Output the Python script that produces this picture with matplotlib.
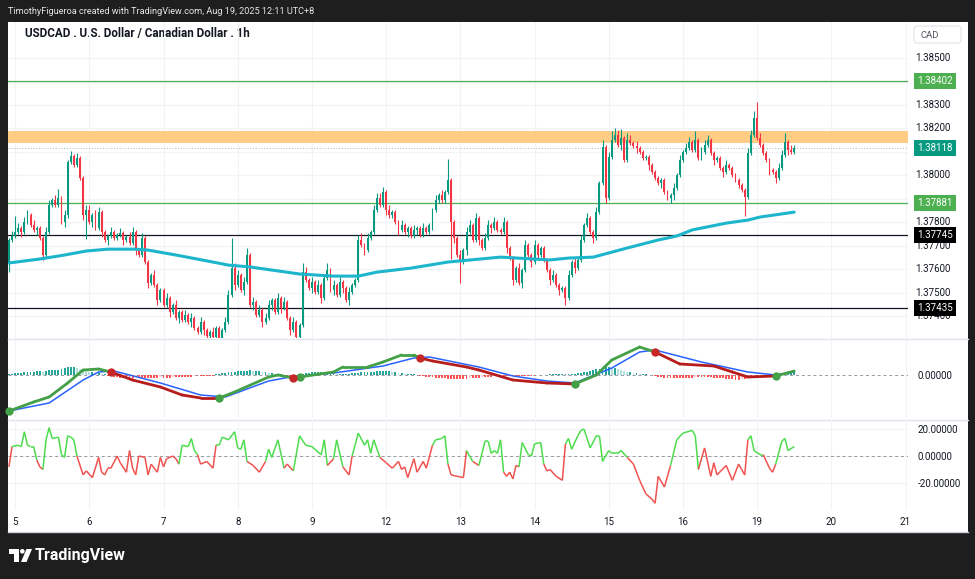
import matplotlib
matplotlib.use("Agg")
import matplotlib.pyplot as plt
import numpy as np
from matplotlib.patches import Rectangle, FancyBboxPatch, Polygon, Circle
from matplotlib.transforms import blended_transform_factory
from matplotlib.collections import LineCollection

plt.rcParams['font.family'] = ['Roboto', 'DejaVu Sans']

# ---------------- data ----------------
day_labels = ['5', '6', '7', '8', '9', '12', '13', '14', '15', '16', '19', '20', '21']
day_start_bar = [0, 24, 48, 72, 96, 120, 144, 168, 192, 216, 240, 264, 288]

first_bar = -2
first_open = 1.37626
closes = [
    1.37724, 1.37741, 1.37758, 1.37775, 1.37758, 1.37801, 1.37830, 1.37788, 1.37767, 1.37775,
    1.37733, 1.37660, 1.37758, 1.37873, 1.37894, 1.37873, 1.37903, 1.37801, 1.37830, 1.38057,
    1.38082, 1.38044, 1.38074, 1.37988, 1.37830, 1.37852, 1.37801, 1.37830, 1.37775, 1.37843,
    1.37758, 1.37724, 1.37741, 1.37758, 1.37733, 1.37745, 1.37754, 1.37724, 1.37737, 1.37711,
    1.37758, 1.37681, 1.37660, 1.37733, 1.37630, 1.37541, 1.37575, 1.37532, 1.37468, 1.37511,
    1.37447, 1.37477, 1.37417, 1.37447, 1.37391, 1.37417, 1.37383, 1.37404, 1.37374, 1.37391,
    1.37349, 1.37332, 1.37374, 1.37340, 1.37315, 1.37332, 1.37310, 1.37349, 1.37306, 1.37340,
    1.37374, 1.37490, 1.37604, 1.37532, 1.37575, 1.37511, 1.37545, 1.37660, 1.37447, 1.37460,
    1.37404, 1.37425, 1.37374, 1.37391, 1.37447, 1.37468, 1.37417, 1.37477, 1.37434, 1.37460,
    1.37391, 1.37340, 1.37374, 1.37310, 1.37361, 1.37587, 1.37553, 1.37519, 1.37545, 1.37502,
    1.37532, 1.37477, 1.37562, 1.37596, 1.37511, 1.37532, 1.37490, 1.37545, 1.37519, 1.37468,
    1.37502, 1.37532, 1.37553, 1.37724, 1.37703, 1.37681, 1.37733, 1.37758, 1.37852, 1.37903,
    1.37873, 1.37929, 1.37852, 1.37830, 1.37843, 1.37801, 1.37767, 1.37788, 1.37758, 1.37775,
    1.37741, 1.37767, 1.37775, 1.37745, 1.37775, 1.37758, 1.37788, 1.37852, 1.37894, 1.37916,
    1.37894, 1.37929, 1.37980, 1.37801, 1.37733, 1.37660, 1.37630, 1.37681, 1.37758, 1.37788,
    1.37724, 1.37818, 1.37724, 1.37690, 1.37733, 1.37788, 1.37775, 1.37801, 1.37767, 1.37758,
    1.37801, 1.37690, 1.37647, 1.37553, 1.37604, 1.37541, 1.37596, 1.37703, 1.37660, 1.37630,
    1.37703, 1.37660, 1.37690, 1.37639, 1.37596, 1.37553, 1.37575, 1.37532, 1.37511, 1.37519,
    1.37477, 1.37575, 1.37630, 1.37604, 1.37639, 1.37724, 1.37788, 1.37818, 1.37758, 1.37733,
    1.37843, 1.37967, 1.38120, 1.37903, 1.38078, 1.38150, 1.38172, 1.38129, 1.38159, 1.38065,
    1.38150, 1.38138, 1.38125, 1.38116, 1.38099, 1.38074, 1.38078, 1.38044, 1.38014, 1.37988,
    1.37967, 1.37980, 1.37929, 1.37903, 1.37916, 1.37946, 1.38001, 1.38065, 1.38099, 1.38116,
    1.38142, 1.38108, 1.38150, 1.38074, 1.38099, 1.38129, 1.38150, 1.38095, 1.38065, 1.38074,
    1.38031, 1.38014, 1.38044, 1.38031, 1.38001, 1.37980, 1.37958, 1.37937, 1.37907, 1.38095,
    1.38172, 1.38244, 1.38159, 1.38129, 1.38095, 1.38065, 1.38022, 1.38014, 1.37988, 1.38031,
    1.38086, 1.38142, 1.38108, 1.38099, 1.38118,
]
# wick lengths beyond the body, in pips (0.0001)
upper_wick = [
    1, 2, 7, 2, 1, 2, 2, 1, 2, 1,   1, 1, 2, 2, 1, 2, 4, 1, 2, 1,
    2, 1, 2, 1, 1, 2, 2, 1, 2, 2,   1, 1, 1, 2, 1, 1, 2, 1, 1, 2,
    2, 1, 1, 2, 1, 1, 1, 2, 1, 1,   1, 2, 1, 1, 2, 1, 1, 2, 1, 2,
    1, 1, 2, 1, 1, 1, 2, 1, 1, 1,   2, 2, 13, 2, 2, 1, 2, 3, 1, 2,
    1, 2, 1, 2, 2, 1, 1, 2, 1, 2,   1, 1, 2, 1, 1, 4, 2, 1, 2, 1,
    2, 1, 1, 3, 1, 2, 1, 2, 1, 1,   2, 1, 1, 2, 3, 1, 2, 1, 2, 2,
    2, 2, 1, 2, 1, 1, 1, 2, 1, 1,   1, 2, 1, 1, 2, 1, 1, 1, 2, 1,
    2, 1, 9, 1, 1, 1, 2, 1, 2, 2,   1, 2, 1, 1, 2, 2, 1, 2, 1, 1,
    2, 1, 1, 1, 1, 2, 1, 2, 1, 1,   2, 1, 1, 1, 1, 1, 2, 1, 1, 1,
    1, 2, 1, 2, 1, 2, 1, 2, 1, 1,   2, 1, 3, 1, 2, 4, 3, 2, 4, 1,
    3, 2, 1, 2, 1, 1, 1, 1, 1, 1,   1, 1, 1, 1, 1, 2, 1, 2, 1, 2,
    2, 1, 4, 1, 2, 2, 2, 1, 1, 1,   1, 1, 2, 1, 1, 1, 1, 1, 1, 2,
    2, 3, 7, 2, 1, 1, 1, 1, 1, 2,   2, 4, 1, 2, 1,
]
lower_wick = [
    4, 1, 1, 1, 2, 1, 1, 1, 1, 2,   1, 2, 1, 1, 1, 1, 1, 1, 2, 1,
    1, 1, 1, 1, 2, 10, 1, 2, 1, 1,  2, 1, 2, 1, 1, 1, 1, 2, 1, 1,
    1, 2, 1, 1, 1, 2, 1, 1, 2, 1,   1, 1, 2, 1, 1, 2, 1, 1, 1, 2,
    1, 1, 1, 2, 1, 1, 1, 1, 1, 2,   1, 1, 1, 2, 1, 1, 2, 1, 1, 2,
    1, 1, 2, 1, 1, 2, 1, 1, 2, 1,   1, 2, 1, 1, 2, 1, 1, 1, 2, 1,
    1, 2, 1, 1, 1, 2, 1, 1, 2, 1,   2, 1, 1, 1, 1, 2, 1, 1, 1, 1,
    1, 1, 2, 1, 1, 1, 2, 1, 1, 2,   1, 1, 2, 1, 1, 1, 1, 2, 1, 1,
    1, 1, 1, 16, 2, 1, 9, 1, 2, 1,  1, 1, 2, 1, 1, 1, 2, 1, 1, 1,
    1, 2, 1, 2, 1, 1, 2, 1, 1, 2,   1, 2, 1, 1, 1, 2, 1, 1, 2, 1,
    3, 1, 1, 2, 1, 1, 1, 1, 1, 2,   1, 1, 1, 2, 1, 1, 1, 1, 2, 1,
    1, 1, 1, 2, 1, 1, 1, 2, 1, 1,   1, 2, 1, 1, 2, 2, 1, 1, 1, 1,
    1, 1, 1, 1, 1, 1, 1, 1, 2, 1,   1, 2, 1, 1, 1, 1, 1, 1, 8, 1,
    1, 1, 1, 1, 1, 1, 2, 1, 2, 1,   1, 1, 2, 1, 1,
]

# moving average (cyan)
ma_bar = [-2, 8, 16, 23, 30, 39, 43, 52, 62, 69, 76, 92, 103, 111, 117, 128, 140, 157,
          173, 179, 187, 198, 208, 214, 219, 230, 237, 241, 252]
ma_val = [1.37626, 1.37643, 1.37660, 1.37677, 1.37685, 1.37685, 1.37681, 1.37660, 1.37635,
          1.37617, 1.37609, 1.37579, 1.37570, 1.37570, 1.37587, 1.37604, 1.37630, 1.37651,
          1.37639, 1.37647, 1.37651, 1.37690, 1.37724, 1.37741, 1.37767, 1.37796, 1.37809,
          1.37822, 1.37843]

# horizontal levels
level_green = [1.38402, 1.37881]
level_black = [1.37745, 1.37435]
zone_low, zone_high = 1.38136, 1.38189
last_price = 1.38118
# price scale ticks visible on the reference (others are hidden under the level labels)
price_ticks = [1.385, 1.383, 1.382, 1.380, 1.378, 1.377, 1.376, 1.375, 1.374]

# MACD pane (units of 1e-5)
macd_bar = [-2, 6, 11, 17, 22, 27, 31, 38, 47, 54, 60, 66, 71, 82, 85, 90, 92, 103, 106, 114,
            119, 125, 129, 131, 135, 146, 150, 161, 172, 181, 188, 193, 202, 207, 215, 226,
            232, 237, 246, 252]
macd_val = [-36, -27, -22, -8, 5, 6, 3, -5, -12, -20, -23, -23, -17, -2, 0, -3, -2, 3, 8, 8,
            13, 20, 20, 17, 14, 8, 5, -5, -8, -9, 0, 15, 28, 23, 11, 9, 3, -2, -1, 4]
signal_bar = [-2, 11, 22, 27, 32, 47, 60, 68, 82, 89, 103, 119, 129, 134, 150, 161, 172, 181,
              193, 202, 207, 222, 237, 246, 252]
signal_val = [-36, -28, -5, 3, 4, -8, -20, -22, -6, -2, 2, 9, 17, 18, 8, -1, -6, -8, 7, 23,
              25, 13, 3, 0, 3]
bull_cross = [-2, 66, 92, 181, 246]
bear_cross = [31, 90, 131, 207]
hist = ([1, 1, 2, 2, 2, 3, 3, 3, 3, 4, 4, 3, 4, 5, 5, 5, 5, 6, 7, 8, 8, 8, 7, 6, 5, 4, 3, 3, 2, 2, 1, 1]
        + [-1]
        + [-1, -2, -2, -3, -3, -3, -3, -3, -2, -3, -3, -3, -3, -3, -3, -3, -2, -3, -3, -3, -2, -2,
           -2, -2, -2, -2, -2, -1, -1, -1, -1, -1, -1, -1]
        + [1, 1, 2, 2, 3, 3, 3, 4, 4, 4, 4, 5, 4, 4, 4, 3, 3, 2, 2, 1, 1, 1, -1, -1, -1, -1, -1]
        + [1, 1, 2, 2, 3, 3, 3, 3, 2, 2, 2, 2, 1, 1, 1, 1, 1]
        + [2, 2, 2, 3, 3, 3, 3, 3, 4, 4, 4, 4, 4, 3, 3, 2, 2, 1, 1, 1]
        + [1, 0]
        + [-1, -1, -2, -2, -2, -3, -3, -3, -3, -4, -4, -4, -4, -4, -4, -4, -3, -3, -3, -3, -2, -2,
           -2, -2, -1, -1, -1, -1, -1, -1]
        + [-1, -1, -1, -1, -1, -1, -1, -1, 0, 0, 0, 0, 1, 1, 1, 1, 1, 1, 1, 1, 1, 2]
        + [2, 3, 3, 4, 5, 6, 6, 7, 8, 8, 7, 7, 6, 5, 4, 3]
        + [3, 2, 2, 1, 1, 1, 0, 0]
        + [-1, -2, -2, -3, -3, -3, -3, -3, -3, -3, -3, -3, -3, -2, -2, -2, -2, -2, -2, -3, -3, -3,
           -3, -4, -4, -4, -5, -5, -4, -4, -3]
        + [-3, -2, -2, -1, -1, -1, 0, 1, 1, 1, 2, 2, 2, 3, 3])

# oscillator pane
osc_bar = [-2, -1, 1, 2, 3, 4, 5, 6, 7, 8, 9, 10, 11, 12, 14, 15, 16, 17, 18, 19, 20, 22, 23, 25,
           27, 28, 29, 30, 31, 33, 34, 36, 37, 38, 39, 40, 42, 43, 44, 46, 47, 48, 49, 51, 52, 53,
           54, 56, 57, 58, 59, 60, 62, 64, 65, 66, 67, 69, 71, 72, 73, 74, 75, 77, 79, 81, 82, 83,
           85, 87, 88, 90, 92, 94, 96, 99, 100, 101, 103, 104, 106, 108, 109, 111, 113, 114, 115,
           116, 118, 120, 122, 124, 125, 126, 127, 129, 130, 132, 133, 135, 136, 138, 139, 140,
           141, 143, 145, 146, 148, 150, 152, 153, 154, 155, 156, 157, 158, 159, 160, 161, 162,
           163, 164, 166, 167, 168, 170, 171, 172, 173, 175, 177, 178, 179, 180, 182, 183, 184,
           186, 188, 189, 190, 192, 193, 195, 196, 198, 200, 202, 204, 206, 207, 208, 210, 212,
           214, 216, 219, 220, 221, 223, 225, 226, 227, 230, 232, 234, 235, 236, 237, 238, 239,
           241, 242, 244, 245, 246, 248, 249, 250, 252]
osc_val = [-8, 7, 8, 7, 18, 8, 7, 7, -3, -8, -10, 12, 21, 13, 14, 1, -1, 15, 14, 12, 0, -14, -11,
           -16, -1, -12, -14, -9, -9, 0, -5, -12, 4, -9, -14, 0, -1, -14, -6, -12, -1, -8, -2, 0,
           -2, -6, 8, 7, 13, 4, 1, -6, -4, -9, 8, 8, 14, 12, 18, 6, 5, 12, -4, -7, -12, -4, 5, -1,
           12, -9, -6, -11, 15, 8, 7, 1, 12, -7, -2, 12, -8, -14, 0, 17, 8, 12, 2, 12, -1, -5, -9,
           -4, -10, -8, -16, -2, -12, -4, -9, 8, 12, 13, 15, -6, -14, -15, -16, 4, -4, -7, 11, 11,
           2, 4, 2, 12, -12, -15, -12, -17, -7, -8, 10, 1, 0, 9, 10, -6, -11, -10, -15, -18, 9,
           13, 5, 15, 19, 20, 6, 15, 15, -4, 4, 2, 2, 4, -1, -6, -18, -28, -32, -35, -15, -23,
           -7, 12, 17, 19, 15, -10, 6, -15, -5, -14, -7, -18, -6, -10, -14, 12, 15, 4, 1, 1, -9,
           -12, -6, 11, 13, 4, 7]

# ---------------- figure ----------------
W, H = 975, 579
fig = plt.figure(figsize=(W / 100, H / 100), dpi=100, facecolor='#1e1e1e')

bg = fig.add_axes([0, 0, 1, 1], zorder=-5)
bg.set_xlim(0, W)
bg.set_ylim(H, 0)
bg.axis('off')
bg.add_patch(Rectangle((8, 22), 960, 510, fc='white', ec='none'))
for yy in (338.5, 419.5):
    bg.plot([8, 968], [yy, yy], color='#e0e3eb', lw=1.0)
bg.plot([8, 968], [531.5, 531.5], color='#d0d3db', lw=1.0)

TXT = '#131722'
GRID = '#f2f3f6'
XMIN, XMAX = -2.3, 288.8


def px_axes(x0, y0, x1, y1):
    a = fig.add_axes([x0 / W, 1 - y1 / H, (x1 - x0) / W, (y1 - y0) / H])
    a.set_facecolor('none')
    for s in a.spines.values():
        s.set_visible(False)
    a.set_xlim(XMIN, XMAX)
    a.set_xticks(day_start_bar)
    a.set_axisbelow(True)
    a.grid(True, color=GRID, lw=0.8)
    a.yaxis.tick_right()
    a.tick_params(axis='y', length=0, pad=7, labelsize=7, labelcolor=TXT)
    a.tick_params(axis='x', length=0)
    return a


# ---- price pane ----
ax = px_axes(8, 22, 908, 338)
ax.set_ylim(1.37306, 1.38654)
ax.set_yticks(np.round(np.arange(1.374, 1.38501, 0.001), 3))
ax.set_yticklabels([])
ax.set_xticklabels([])
ptr = blended_transform_factory(ax.transAxes, ax.transData)
for t in price_ticks:
    ax.text(1.0 + 7.5 / 900, t, f'{t:.5f}', transform=ptr, ha='left', va='center',
            fontsize=7, color=TXT, zorder=6)

ax.axhspan(zone_low, zone_high, color='#ffcc85', lw=0, zorder=1)
for lv in level_green:
    ax.axhline(lv, color='#4caf50', lw=0.9, zorder=1.5)
for lv in level_black:
    ax.axhline(lv, color='#131722', lw=0.9, zorder=1.5)
ax.axhline(last_price, color='#b5c9c5', lw=0.8, ls=(0, (1, 1.5)), zorder=1.5)

c = np.array(closes)
assert len(c) == len(upper_wick) == len(lower_wick) == len(hist)
bars = np.arange(first_bar, first_bar + len(c))
o = np.concatenate([[first_open], c[:-1]])
top = np.maximum(o, c)
bot = np.minimum(o, c)
hi = top + np.array(upper_wick) * 1e-4
lo = bot - np.array(lower_wick) * 1e-4
up = c >= o
cols = np.where(up, '#089981', '#f23645')
ax.vlines(bars, lo, hi, colors=cols, lw=0.8, zorder=2)
ax.bar(bars, np.maximum(top - bot, 0.00002), bottom=bot, width=0.62, color=cols, lw=0, zorder=2.5)

ax.plot(ma_bar, ma_val, color='#1cb5cc', lw=2.2, solid_capstyle='round', zorder=3)

xlab = (935 - 8) / 900


def price_label(y, text, color):
    ax.text(xlab, y, text, transform=ptr, ha='center', va='center', fontsize=7, color='white',
            zorder=10, bbox=dict(boxstyle='square,pad=0.32', fc=color, ec='none'))


price_label(level_green[0], f'{level_green[0]:.5f}', '#4caf50')
price_label(level_green[1], f'{level_green[1]:.5f}', '#4caf50')
price_label(last_price, f'{last_price:.5f}', '#089981')
price_label(level_black[0], f'{level_black[0]:.5f}', '#000000')
price_label(level_black[1], f'{level_black[1]:.5f}', '#000000')

bg.add_patch(FancyBboxPatch((914, 26), 47, 17, boxstyle='round,pad=0,rounding_size=3',
                            fc='white', ec='#e0e3eb', lw=0.8))
bg.text(930, 35, 'CAD', fontsize=6.8, color='#50535e', ha='center', va='center')

bg.text(25, 33, 'USDCAD . U.S. Dollar / Canadian Dollar . 1h', fontsize=8.4, color=TXT,
        fontweight='bold', ha='left', va='center')

# ---- MACD pane ----
am = px_axes(8, 340, 908, 418)
am.set_ylim(-43, 35)
am.set_yticks([0])
am.set_yticklabels(['0.00000'])
am.set_xticklabels([])
am.grid(False, axis='y')
h = np.array(hist)
hcols = []
for k, v in enumerate(h):
    prev = h[k - 1] if k > 0 else 0
    if v >= 0:
        hcols.append('#26a69a' if v >= prev else '#b2dfdb')
    else:
        hcols.append('#ff5252' if v <= prev else '#ffcdd2')
am.bar(bars, h, width=0.6, color=hcols, lw=0, zorder=2)
am.axhline(0, color='#9598a1', lw=0.7, ls=(0, (3, 3)), zorder=1.5)
am.plot(signal_bar, signal_val, color='#2962ff', lw=1.1, zorder=3)

crosses = sorted([(b, 'g') for b in bull_cross] + [(b, 'r') for b in bear_cross])
segs, scol = [], []
for k in range(len(macd_bar) - 1):
    b0 = macd_bar[k]
    state = 'g'
    for cb, cs in crosses:
        if cb <= b0:
            state = cs
    segs.append([(macd_bar[k], macd_val[k]), (macd_bar[k + 1], macd_val[k + 1])])
    scol.append('#43a047' if state == 'g' else '#b71c1c')
am.add_collection(LineCollection(segs, colors=scol, lw=2.0, capstyle='round', zorder=4))
mv = dict(zip(macd_bar, macd_val))
am.plot(bull_cross, [mv[b] for b in bull_cross], 'o', ms=6, color='#43a047', mec='none', zorder=5,
        clip_on=False)
am.plot(bear_cross, [mv[b] for b in bear_cross], 'o', ms=6, color='#c62828', mec='none', zorder=5)

# ---- oscillator pane ----
ao = px_axes(8, 420, 908, 510)
ao.set_ylim(-40, 26.7)
ao.set_yticks([20, 0, -20])
ao.set_yticklabels(['20.00000', '0.00000', '-20.00000'])
ao.set_xticklabels(day_labels)
ao.tick_params(axis='x', labelsize=7, labelcolor=TXT, pad=5)
ao.axhline(0, color='#9598a1', lw=0.7, ls=(0, (3, 3)), zorder=1.5)
osegs, ocols = [], []
for k in range(len(osc_bar) - 1):
    v0, v1 = osc_val[k], osc_val[k + 1]
    osegs.append([(osc_bar[k], v0), (osc_bar[k + 1], v1)])
    ocols.append('#4ddc4d' if (v0 + v1) / 2 >= 0 else '#ef5350')
ao.add_collection(LineCollection(osegs, colors=ocols, lw=1.1, zorder=3))

# ---- header & footer ----
bg.text(8, 12, 'TimothyFigueroa created with TradingView.com, Aug 19, 2025 12:11 UTC+8',
        fontsize=6.6, color='#e6e6e6', ha='left', va='center')
bg.add_patch(Polygon([(9, 549), (19, 549), (19, 562), (14, 562), (14, 553.5), (9, 553.5)],
                     closed=True, fc='white', ec='none'))
bg.add_patch(Circle((22.3, 551.3), 2.3, fc='white', ec='none'))
bg.add_patch(Polygon([(26.5, 549), (32, 549), (26.5, 562), (21, 562)], closed=True,
                     fc='white', ec='none'))
bg.text(35, 555.5, 'TradingView', fontsize=11.5, color='white', fontweight='bold',
        ha='left', va='center')

fig.savefig('out.png', dpi=100, facecolor=fig.get_facecolor())
